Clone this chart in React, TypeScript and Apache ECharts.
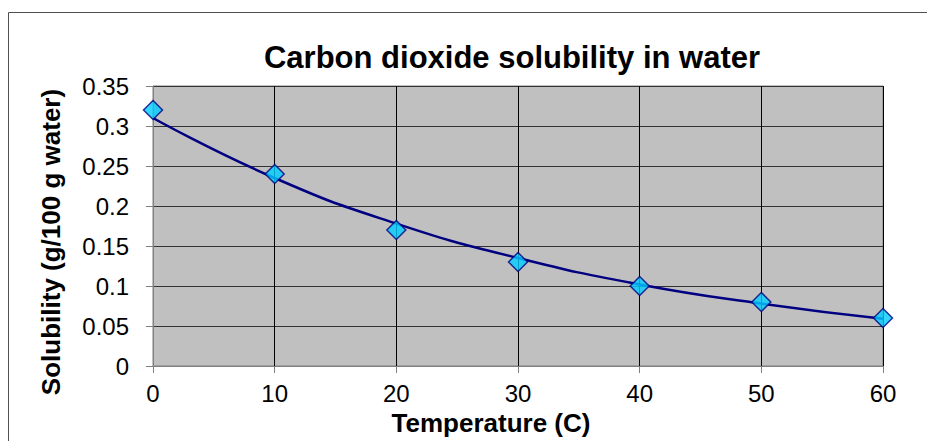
import React, { useEffect, useRef } from "react";
import * as echarts from "echarts";

const temperatures = [0, 10, 20, 30, 40, 50, 60];
const solubility = [0.32, 0.24, 0.17, 0.13, 0.1, 0.08, 0.06];
// exponential trendline
const trendTemps = [0, 10, 20, 30, 40, 50, 60];
const trendValues = [0.31, 0.235, 0.178, 0.135, 0.102, 0.078, 0.059];

const titleText = "Carbon dioxide solubility in water";
const xName = "Temperature (C)";
const yName = "Solubility (g/100 g water)";

export default function App() {
  const ref = useRef<HTMLDivElement>(null);
  useEffect(() => {
    if (!ref.current) return;
    const chart = echarts.init(ref.current, undefined, { renderer: "svg" });
    const font = "Arial, 'Liberation Sans', sans-serif";
    chart.setOption({
      animation: false,
      backgroundColor: "#ffffff",
      graphic: [
        {
          type: "polyline",
          shape: { points: [[8.5, 460], [8.5, 12.5], [940, 12.5]] },
          style: { fill: "none", stroke: "#505050", lineWidth: 1 },
          silent: true,
          z: -10,
        },
        {
          type: "text",
          x: 512,
          y: 57,
          style: {
            text: titleText,
            fontFamily: font,
            fontSize: 31,
            fontWeight: "bold",
            fill: "#000",
            align: "center",
            verticalAlign: "middle",
          },
        },
        {
          type: "text",
          x: 491,
          y: 423,
          style: {
            text: xName,
            fontFamily: font,
            fontSize: 26,
            fontWeight: "bold",
            fill: "#000",
            align: "center",
            verticalAlign: "middle",
          },
        },
        {
          type: "text",
          x: 51,
          y: 242,
          rotation: Math.PI / 2,
          style: {
            text: yName,
            fontFamily: font,
            fontSize: 26,
            fontWeight: "bold",
            fill: "#000",
            align: "center",
            verticalAlign: "middle",
          },
        },
      ],
      grid: {
        left: 153,
        top: 86,
        right: 44,
        bottom: 75,
        show: true,
        backgroundColor: "#c0c0c0",
        borderColor: "#808080",
        borderWidth: 1,
      },
      xAxis: {
        type: "value",
        min: 0,
        max: 60,
        interval: 10,
        axisLine: { show: true, lineStyle: { color: "#808080", width: 1 } },
        axisTick: { show: true, inside: false, length: 7, lineStyle: { color: "#808080" } },
        axisLabel: { fontFamily: font, fontSize: 24, color: "#000", margin: 15 },
        splitLine: { show: true, lineStyle: { color: "#000", width: 1 } },
      },
      yAxis: {
        type: "value",
        min: 0,
        max: 0.35,
        interval: 0.05,
        axisLine: { show: true, lineStyle: { color: "#808080", width: 1 } },
        axisTick: { show: true, inside: false, length: 7, lineStyle: { color: "#808080" } },
        axisLabel: { fontFamily: font, fontSize: 24, color: "#000", margin: 24 },
        splitLine: { show: true, lineStyle: { color: "#333", width: 1 } },
      },
      series: [
        {
          type: "line",
          data: trendTemps.map((t, i) => [t, trendValues[i]]),
          smooth: true,
          showSymbol: false,
          lineStyle: { color: "#000080", width: 2.5 },
          z: 2,
        },
        {
          type: "scatter",
          data: temperatures.map((t, i) => [t, solubility[i]]),
          symbol: "diamond",
          symbolSize: [19, 19],
          itemStyle: { color: "#00ccff", borderColor: "#000080", borderWidth: 1.5 },
          z: 3,
        },
      ],
    });
    return () => chart.dispose();
  }, []);
  return (
    <div
      ref={ref}
      style={{ position: "fixed", left: 0, top: 0, width: 927, height: 441 }}
    />
  );
}
